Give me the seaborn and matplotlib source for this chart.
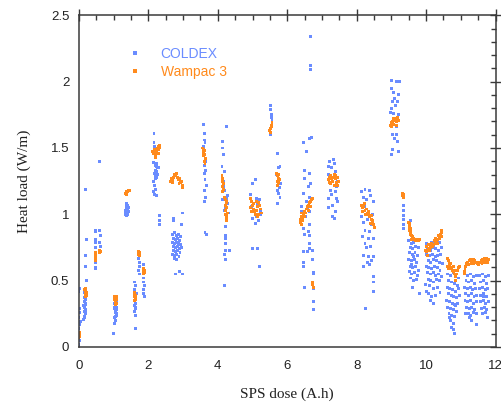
import matplotlib
matplotlib.use("Agg")
import matplotlib.pyplot as plt
from matplotlib.ticker import MultipleLocator, FixedLocator
import seaborn as sns
import pandas as pd

# ---------------- data ----------------
x_ticks = [0, 2, 4, 6, 8, 10, 12]
x_tick_labels = ["0", "2", "4", "6", "8", "10", "12"]
y_ticks = [0, 0.5, 1, 1.5, 2, 2.5]
y_tick_labels = ["0", "0.5", "1", "1.5", "2", "2.5"]
series_names = ["COLDEX", "Wampac 3"]
series_colors = ["#6a8cff", "#ff8a1c"]

# COLDEX runs (x = SPS dose A.h, y = heat load W/m)
coldex_run_00 = [(0.00,0.02),(0.01,0.05),(0.00,0.08),(0.02,0.11),(0.00,0.14),(0.01,0.17),(0.03,0.19),
                 (0.00,0.22),(0.02,0.26),(0.01,0.29),(0.02,0.44),(0.00,0.42)]
coldex_run_02 = [(0.14,0.21),(0.16,0.23),(0.18,0.25),(0.15,0.27),(0.19,0.28),(0.17,0.30),(0.14,0.31),
                 (0.20,0.33),(0.16,0.34),(0.18,0.36),(0.15,0.37),(0.19,0.39),(0.17,0.41),(0.16,0.22),
                 (0.20,0.26),(0.18,0.32),(0.21,0.50),(0.20,0.61),(0.20,0.69),(0.21,0.81),(0.20,1.19),(0.60,1.40)]
coldex_run_05 = [(0.47,0.88),(0.47,0.87),(0.48,0.81),(0.47,0.79),(0.48,0.75),(0.47,0.64),(0.48,0.60),
                 (0.47,0.59),(0.49,0.70),(0.60,0.88),(0.61,0.84),(0.60,0.79),(0.61,0.76)]
coldex_run_10 = [(1.00,0.10),(1.03,0.18),(1.05,0.20),(1.02,0.22),(1.07,0.24),(1.04,0.26),(1.06,0.27),
                 (1.03,0.29),(1.08,0.30),(1.05,0.31),(1.02,0.33),(1.07,0.34),(1.04,0.35),(1.06,0.37),
                 (1.09,0.25),(1.05,0.23),(1.08,0.28),(1.01,0.30)]
coldex_run_14 = [(1.33,1.00),(1.36,1.01),(1.39,1.00),(1.42,1.02),(1.35,1.03),(1.38,1.04),(1.41,1.03),
                 (1.37,1.06),(1.40,1.07),(1.43,1.05),(1.36,0.99),(1.40,1.01),(1.38,1.08),(1.34,1.02)]
coldex_run_17 = [(1.62,0.14),(1.63,0.24),(1.60,0.27),(1.64,0.29),(1.61,0.31),(1.63,0.33),(1.60,0.35),
                 (1.62,0.38),(1.65,0.40),(1.61,0.43),(1.63,0.46),(1.60,0.49),(1.64,0.36),(1.62,0.30),
                 (1.73,0.55),(1.72,0.58),(1.74,0.61),(1.73,0.64),(1.72,0.67),
                 (1.87,0.62),(1.88,0.58),(1.86,0.52),(1.87,0.49),(1.88,0.46),(1.86,0.43),(1.87,0.40),(1.88,0.38)]
coldex_run_22 = [(2.16,1.61),(2.16,1.54),(2.17,1.51),(2.15,1.39),(2.19,1.37),(2.22,1.36),(2.25,1.35),
                 (2.20,1.33),(2.23,1.32),(2.18,1.31),(2.26,1.30),(2.21,1.29),(2.24,1.28),(2.19,1.27),
                 (2.14,1.25),(2.17,1.22),(2.20,1.19),(2.15,1.17),(2.18,1.15),(2.22,1.14),(2.33,0.99),
                 (2.33,0.95),(2.33,0.92),(2.28,1.35),(2.23,1.38)]
coldex_run_28 = [(2.70,0.85),(2.74,0.86),(2.80,0.84),(2.86,0.85),(2.72,0.82),(2.78,0.81),(2.84,0.82),
                 (2.90,0.80),(2.69,0.79),(2.75,0.78),(2.81,0.79),(2.87,0.78),(2.93,0.77),(2.71,0.76),
                 (2.77,0.75),(2.83,0.76),(2.89,0.74),(2.96,0.75),(2.73,0.73),(2.79,0.72),(2.85,0.73),
                 (2.91,0.71),(2.70,0.70),(2.76,0.69),(2.82,0.70),(2.88,0.68),(2.74,0.67),(2.80,0.66),
                 (2.86,0.78),(2.92,0.83),(2.77,0.55),(2.98,0.55),(2.89,0.57),(2.72,0.95),(2.72,0.97),
                 (2.99,1.01),(2.95,0.92)]
coldex_run_36 = [(3.60,1.68),(3.62,1.61),(3.61,1.56),(3.63,1.54),(3.60,1.51),(3.64,1.40),(3.62,1.37),
                 (3.65,1.33),(3.61,1.31),(3.63,1.26),(3.66,1.22),(3.62,1.18),(3.64,1.13),(3.61,1.10),
                 (3.63,0.86),(3.66,0.85)]
coldex_run_42 = [(4.25,1.66),(4.13,1.55),(4.14,1.50),(4.16,1.45),(4.12,1.36),(4.18,1.32),(4.15,1.21),
                 (4.20,1.18),(4.13,1.11),(4.28,1.08),(4.22,1.05),(4.30,1.01),(4.26,0.97),(4.21,0.91),
                 (4.22,0.84),(4.22,0.82),(4.22,0.78),(4.21,0.73),(4.34,0.73),(4.20,0.70),(4.22,0.66),
                 (4.20,0.46),(4.17,1.25),(4.24,1.12),(4.28,1.14),(4.19,1.03)]
coldex_run_51 = [(5.00,1.23),(5.09,1.26),(4.95,1.15),(5.21,1.11),(4.98,1.06),(5.24,1.02),(5.12,0.98),
                 (4.99,0.97),(5.08,0.93),(5.17,0.95),(4.99,0.74),(5.13,0.74),(5.20,0.61),(5.05,1.02),
                 (5.15,1.08),(4.96,1.10),(5.22,1.00),(5.10,1.12)]
coldex_run_55 = [(5.52,1.82),(5.52,1.79),(5.55,1.75),(5.54,1.73),(5.56,1.71),(5.51,1.62),(5.52,1.60)]
coldex_run_57 = [(5.72,1.46),(5.79,1.36),(5.76,1.35),(5.70,1.30),(5.80,1.23),(5.73,1.18),(5.76,1.16),
                 (5.79,1.13),(5.71,1.08),(5.75,1.25),(5.78,1.20)]
coldex_run_65 = [(6.67,2.34),(6.66,2.12),(6.66,2.09),(6.70,1.58),(6.63,1.57),(6.46,1.54),(6.56,1.47),
                 (6.49,1.33),(6.65,1.31),(6.51,1.27),(6.68,1.23),(6.60,1.21),(6.46,1.16),(6.63,1.13),
                 (6.55,1.10),(6.40,1.06),(6.65,1.02),(6.52,0.98),(6.46,0.89),(6.49,0.85),(6.63,0.92),
                 (6.62,0.87),(6.65,0.84),(6.63,0.78),(6.64,0.74),(6.58,0.72),(6.72,0.73),(6.46,0.72),
                 (6.46,0.64),(6.46,0.61),(6.72,0.66),(6.75,0.56),(6.75,0.55),(6.49,0.45),(6.75,0.44),
                 (6.75,0.34),(6.75,0.28),(6.42,1.02),(6.58,1.05)]
coldex_run_73 = [(7.33,1.41),(7.22,1.40),(7.37,1.38),(7.18,1.36),(7.27,1.35),(7.40,1.32),(7.20,1.30),
                 (7.42,1.21),(7.24,1.18),(7.38,1.17),(7.28,1.15),(7.43,1.12),(7.18,1.12),(7.45,1.10),
                 (7.31,1.07),(7.20,1.05),(7.40,1.02),(7.30,0.98),(7.36,0.97),(7.46,1.25),(7.23,1.24)]
coldex_run_83 = [(8.24,1.19),(8.14,1.17),(8.36,1.18),(8.19,1.13),(8.41,1.14),(8.29,1.11),(8.48,1.10),
                 (8.22,1.06),(8.19,0.94),(8.43,0.92),(8.24,0.88),(8.38,0.87),(8.16,0.83),(8.33,0.82),
                 (8.48,0.82),(8.24,0.78),(8.40,0.76),(8.29,0.75),(8.19,0.69),(8.35,0.68),(8.48,0.68),
                 (8.32,0.64),(8.43,0.65),(8.19,0.61),(8.38,0.62),(8.48,0.53),(8.48,0.49),(8.48,0.42),
                 (8.26,0.29),(8.45,1.00),(8.15,0.98),(8.30,0.96)]
coldex_run_91 = [(9.01,2.01),(9.15,2.00),(9.22,2.00),(8.99,1.95),(9.06,1.92),(9.20,1.90),(9.10,1.87),
                 (9.04,1.85),(9.18,1.85),(9.12,1.82),(8.99,1.80),(8.98,1.77),(9.06,1.76),(9.20,1.75),
                 (8.98,1.67),(9.03,1.60),(9.15,1.60),(9.10,1.57),(9.18,1.55),(9.04,1.49),(9.20,1.47),
                 (9.01,1.45),(9.08,1.72),(9.14,1.66)]
coldex_run_93 = [(9.35,1.07),(9.35,1.03),(9.35,0.99),(9.36,0.96),(9.34,0.92),(9.35,0.89)]
coldex_run_96 = [(9.52,0.92),(9.55,0.95),(9.50,0.80),(9.58,0.78),(9.65,0.79),(9.72,0.80),(9.55,0.75),
                 (9.62,0.74),(9.70,0.76),(9.78,0.75),(9.52,0.71),(9.60,0.70),(9.68,0.71),(9.75,0.69),
                 (9.50,0.66),(9.57,0.65),(9.66,0.66),(9.73,0.64),(9.54,0.61),(9.62,0.60),(9.70,0.61),
                 (9.78,0.58),(9.51,0.57),(9.59,0.55),(9.67,0.56),(9.75,0.54),(9.56,0.52),(9.64,0.50),
                 (9.72,0.51),(9.60,0.45),(9.82,0.40),(9.63,0.68),(9.58,0.62)]
coldex_run_102 = [(10.00,0.78),(10.08,0.77),(10.16,0.79),(10.24,0.78),(10.32,0.80),(10.40,0.79),
                  (10.04,0.74),(10.12,0.73),(10.20,0.75),(10.28,0.74),(10.36,0.73),(10.44,0.75),
                  (10.02,0.70),(10.10,0.69),(10.18,0.70),(10.26,0.68),(10.34,0.69),(10.42,0.70),
                  (10.06,0.65),(10.14,0.64),(10.22,0.66),(10.30,0.65),(10.38,0.64),(10.46,0.63),
                  (10.00,0.61),(10.08,0.60),(10.16,0.59),(10.24,0.61),(10.32,0.60),(10.40,0.58),
                  (10.04,0.56),(10.12,0.55),(10.20,0.56),(10.28,0.54),(10.36,0.55),(10.44,0.53),
                  (10.06,0.51),(10.14,0.50),(10.22,0.49),(10.30,0.51),(10.38,0.50),(10.10,0.46),
                  (10.20,0.44),(10.32,0.45),(10.02,0.42),(10.06,0.40),(10.15,0.38),(10.26,0.39),
                  (10.40,0.41),(10.12,0.35),(10.22,0.33),(9.99,0.47)]
coldex_run_108 = [(10.62,0.55),(10.70,0.54),(10.78,0.56),(10.86,0.50),(10.94,0.52),(10.65,0.50),
                  (10.73,0.49),(10.81,0.48),(10.90,0.46),(10.62,0.45),(10.68,0.44),(10.76,0.43),
                  (10.84,0.42),(10.92,0.44),(10.64,0.40),(10.72,0.39),(10.80,0.38),(10.88,0.37),
                  (10.96,0.39),(10.60,0.35),(10.67,0.34),(10.75,0.33),(10.83,0.32),(10.91,0.33),
                  (10.63,0.30),(10.71,0.29),(10.79,0.28),(10.87,0.27),(10.66,0.25),(10.74,0.24),
                  (10.82,0.23),(10.70,0.20),(10.78,0.18),(10.74,0.15),(10.80,0.13),(10.82,0.10),
                  (10.68,0.22),(10.86,0.31)]
coldex_run_113 = [(11.12,0.55),(11.20,0.54),(11.28,0.55),(11.36,0.53),(11.44,0.54),(11.15,0.50),
                  (11.23,0.49),(11.31,0.50),(11.39,0.48),(11.11,0.45),(11.19,0.44),(11.27,0.45),
                  (11.35,0.43),(11.43,0.44),(11.14,0.40),(11.22,0.39),(11.30,0.40),(11.38,0.38),
                  (11.46,0.39),(11.12,0.35),(11.20,0.34),(11.28,0.35),(11.36,0.33),(11.44,0.34),
                  (11.16,0.30),(11.24,0.29),(11.32,0.30),(11.40,0.28),(11.13,0.25),(11.21,0.25),
                  (11.29,0.24),(11.37,0.26),(11.45,0.25),(11.30,0.20),(11.46,0.17),(11.26,0.22)]
coldex_run_117 = [(11.55,0.54),(11.63,0.55),(11.71,0.53),(11.79,0.54),(11.58,0.49),(11.66,0.50),
                  (11.74,0.48),(11.54,0.44),(11.62,0.45),(11.70,0.43),(11.78,0.44),(11.57,0.39),
                  (11.65,0.40),(11.73,0.38),(11.56,0.34),(11.64,0.35),(11.72,0.33),(11.80,0.34),
                  (11.59,0.29),(11.67,0.30),(11.75,0.28),(11.62,0.25),(11.70,0.26),(11.76,0.22),
                  (11.66,0.38)]

# Wampac 3 runs
wampac_run_00 = [(0.00,0.07),(0.01,0.08),(0.00,0.09),(0.02,0.10),(0.01,0.11)]
wampac_run_02 = [(0.17,0.43),(0.19,0.42),(0.21,0.41),(0.18,0.40),(0.22,0.39),(0.20,0.38),(0.23,0.40),(0.19,0.44)]
wampac_run_05 = [(0.47,0.71),(0.48,0.69),(0.47,0.67),(0.48,0.65),(0.60,0.73),(0.61,0.72),(0.60,0.71)]
wampac_run_10 = [(1.03,0.38),(1.05,0.37),(1.07,0.36),(1.04,0.35),(1.06,0.34),(1.08,0.33),(1.05,0.32),
                 (1.07,0.38),(1.09,0.37),(1.02,0.36)]
wampac_run_14 = [(1.34,1.16),(1.37,1.17),(1.40,1.17),(1.43,1.18),(1.45,1.18),(1.36,1.15)]
wampac_run_17 = [(1.59,0.41),(1.61,0.40),(1.63,0.39),(1.60,0.38),(1.62,0.37),(1.64,0.36),(1.61,0.35),
                 (1.72,0.72),(1.73,0.71),(1.72,0.70),(1.73,0.69),
                 (1.86,0.59),(1.88,0.58),(1.87,0.57),(1.89,0.56),(1.86,0.55)]
wampac_run_22 = [(2.12,1.47),(2.15,1.46),(2.18,1.48),(2.20,1.45),(2.22,1.49),(2.25,1.50),(2.28,1.51),
                 (2.30,1.49),(2.33,1.50),(2.16,1.49),(2.24,1.47),(2.29,1.46),(2.20,1.43),(2.31,1.52)]
wampac_run_28 = [(2.63,1.25),(2.66,1.27),(2.69,1.26),(2.72,1.28),(2.75,1.30),(2.78,1.29),(2.80,1.31),
                 (2.83,1.28),(2.86,1.26),(2.89,1.27),(2.92,1.24),(2.95,1.25),(2.97,1.22),(2.99,1.20),
                 (2.70,1.24),(2.88,1.23)]
wampac_run_36 = [(3.57,1.50),(3.60,1.49),(3.62,1.48),(3.59,1.46),(3.63,1.45),(3.60,1.44),(3.64,1.42),
                 (3.61,1.40),(3.63,1.38),(3.58,1.47)]
wampac_run_42 = [(4.12,1.29),(4.14,1.27),(4.13,1.25),(4.15,1.23),(4.14,1.21),(4.16,1.19),(4.13,1.17),
                 (4.20,1.13),(4.22,1.11),(4.24,1.09),(4.21,1.07),(4.25,1.05),(4.23,1.03),(4.27,1.01),
                 (4.24,0.99),(4.26,0.97),(4.24,0.95),(4.22,1.00),(4.26,1.10)]
wampac_run_51 = [(4.93,1.12),(4.96,1.10),(4.99,1.07),(5.02,1.04),(5.05,1.02),(5.08,1.00),(5.11,1.03),
                 (5.14,1.06),(5.17,1.09),(5.20,1.07),(5.23,1.04),(5.25,1.01),(4.97,1.02),(5.03,1.08),
                 (5.10,1.10),(5.18,1.00),(5.13,0.98),(4.95,1.05)]
wampac_run_55 = [(5.50,1.63),(5.52,1.65),(5.54,1.67),(5.56,1.69),(5.53,1.62),(5.55,1.66)]
wampac_run_57 = [(5.70,1.31),(5.72,1.29),(5.74,1.27),(5.71,1.25),(5.76,1.24),(5.73,1.22),(5.78,1.26),(5.75,1.30)]
wampac_run_65 = [(6.37,0.96),(6.40,0.98),(6.43,0.97),(6.46,1.00),(6.49,1.02),(6.52,1.01),(6.55,1.04),
                 (6.58,1.06),(6.61,1.07),(6.64,1.09),(6.67,1.10),(6.70,1.11),(6.72,1.12),(6.38,0.94),
                 (6.42,1.01),(6.50,0.98),(6.60,1.03),(6.66,1.06),(6.40,0.92),(6.44,0.95),
                 (6.74,0.49),(6.74,0.47),(6.75,0.45)]
wampac_run_73 = [(7.18,1.26),(7.21,1.28),(7.24,1.29),(7.27,1.27),(7.30,1.25),(7.33,1.28),(7.36,1.30),
                 (7.39,1.27),(7.42,1.24),(7.45,1.22),(7.48,1.25),(7.25,1.23),(7.35,1.22),(7.40,1.29),
                 (7.22,1.24),(7.46,1.28)]
wampac_run_83 = [(8.15,1.07),(8.18,1.05),(8.21,1.06),(8.24,1.03),(8.27,1.04),(8.30,1.01),(8.33,1.00),
                 (8.36,0.98),(8.39,0.99),(8.42,0.96),(8.45,0.94),(8.48,0.92),(8.50,0.90),(8.17,1.02),
                 (8.26,1.00),(8.35,1.02),(8.44,0.99),(8.47,0.95),(8.22,1.08),(8.40,0.93)]
wampac_run_91 = [(8.97,1.67),(9.00,1.69),(9.03,1.70),(9.06,1.68),(9.09,1.71),(9.12,1.72),(9.15,1.70),
                 (9.18,1.73),(9.21,1.71),(9.05,1.72),(9.14,1.67),(9.01,1.66)]
wampac_run_93 = [(9.33,1.16),(9.34,1.15),(9.33,1.14),(9.35,1.13)]
wampac_run_96 = [(9.50,0.94),(9.52,0.93),(9.51,0.91),(9.53,0.90),(9.52,0.88),(9.54,0.87),(9.55,0.85),
                 (9.57,0.84),(9.60,0.83),(9.63,0.82),(9.58,0.81),(9.66,0.81),(9.70,0.80),(9.74,0.81),
                 (9.78,0.80),(9.82,0.81),(9.56,0.89)]
wampac_run_102 = [(9.98,0.73),(10.02,0.72),(10.06,0.74),(10.10,0.73),(10.14,0.75),(10.18,0.76),
                  (10.22,0.77),(10.26,0.78),(10.30,0.80),(10.34,0.81),(10.38,0.83),(10.41,0.85),
                  (10.44,0.86),(10.45,0.88),(10.00,0.76),(10.08,0.77),(10.16,0.78),(10.24,0.80),
                  (10.32,0.78),(10.40,0.82),(10.04,0.69),(10.12,0.76),(10.28,0.82),(10.36,0.84),(10.43,0.83)]
wampac_run_108 = [(10.62,0.67),(10.64,0.65),(10.66,0.63),(10.68,0.62),(10.70,0.60),(10.73,0.59),
                  (10.76,0.58),(10.79,0.57),(10.82,0.55),(10.84,0.53),(10.86,0.50),(10.88,0.55),
                  (10.90,0.58),(10.93,0.60),(10.95,0.61),(10.63,0.61),(10.71,0.63),(10.78,0.61),
                  (10.85,0.58),(10.65,0.59)]
wampac_run_115 = [(11.10,0.57),(11.12,0.59),(11.14,0.61),(11.17,0.63),(11.20,0.64),(11.24,0.65),
                  (11.28,0.66),(11.32,0.65),(11.36,0.66),(11.40,0.65),(11.44,0.64),(11.48,0.63),
                  (11.55,0.64),(11.59,0.65),(11.63,0.66),(11.67,0.67),(11.71,0.66),(11.75,0.67),
                  (11.79,0.66),(11.11,0.55),(11.22,0.62),(11.30,0.63),(11.38,0.63),(11.52,0.62),
                  (11.61,0.63),(11.69,0.64),(11.77,0.64)]

coldex_runs = [coldex_run_00, coldex_run_02, coldex_run_05, coldex_run_10, coldex_run_14, coldex_run_17,
               coldex_run_22, coldex_run_28, coldex_run_36, coldex_run_42, coldex_run_51, coldex_run_55,
               coldex_run_57, coldex_run_65, coldex_run_73, coldex_run_83, coldex_run_91, coldex_run_93,
               coldex_run_96, coldex_run_102, coldex_run_108, coldex_run_113, coldex_run_117]
wampac_runs = [wampac_run_00, wampac_run_02, wampac_run_05, wampac_run_10, wampac_run_14, wampac_run_17,
               wampac_run_22, wampac_run_28, wampac_run_36, wampac_run_42, wampac_run_51, wampac_run_55,
               wampac_run_57, wampac_run_65, wampac_run_73, wampac_run_83, wampac_run_91, wampac_run_93,
               wampac_run_96, wampac_run_102, wampac_run_108, wampac_run_115]

rows = []
for name, runs in zip(series_names, [coldex_runs, wampac_runs]):
    for run in runs:
        for xv, yv in run:
            rows.append({"dose": xv, "heat": yv, "series": name})
df = pd.DataFrame(rows)

# ---------------- style ----------------
sns.set_style("white")
plt.rcParams["font.family"] = ["Liberation Sans", "DejaVu Sans"]

fig = plt.figure(figsize=(5.02, 4.03), dpi=100)
ax = fig.add_axes([0.1574, 0.139, 0.8297, 0.8230])

palette = dict(zip(series_names, series_colors))
sns.scatterplot(data=df, x="dose", y="heat", hue="series", hue_order=series_names,
                palette=palette, marker="s", s=4.5, linewidth=0, ax=ax, legend=True)

ax.set_xlim(0, 12)
ax.set_ylim(0, 2.5)
ax.xaxis.set_major_locator(FixedLocator(x_ticks))
ax.set_xticklabels(x_tick_labels)
ax.yaxis.set_major_locator(FixedLocator(y_ticks))
ax.set_yticklabels(y_tick_labels)
ax.xaxis.set_minor_locator(MultipleLocator(0.5))
ax.yaxis.set_minor_locator(MultipleLocator(0.1))

axis_col = "#3a3a3a"
for sp in ax.spines.values():
    sp.set_visible(True)
    sp.set_linewidth(1.1)
    sp.set_color(axis_col)

ax.tick_params(which="major", direction="inout", length=9, width=1.0, color=axis_col,
               top=True, right=True, labelsize=9.5, labelcolor="#222222")
ax.tick_params(axis="y", which="major", pad=2.5)
ax.tick_params(axis="x", which="major", pad=5)
ax.tick_params(which="minor", direction="in", length=3.5, width=1.0, color=axis_col,
               top=True, right=True)

ax.set_xlabel("SPS dose (A.h)", family=["Liberation Serif", "DejaVu Serif"], fontsize=11,
              color="#222222", labelpad=11)
ax.set_ylabel("Heat load (W/m)", family=["Liberation Serif", "DejaVu Serif"], fontsize=11,
              color="#222222", labelpad=14)

sns.move_legend(ax, "upper left", bbox_to_anchor=(0.1176, 0.905), frameon=False, title=None,
                borderpad=0, borderaxespad=0, handlelength=1.0, handletextpad=1.35,
                labelspacing=0.3, markerscale=1.6, fontsize=10,
                labelcolor=series_colors)

fig.savefig("out.png", dpi=100, facecolor="white")
